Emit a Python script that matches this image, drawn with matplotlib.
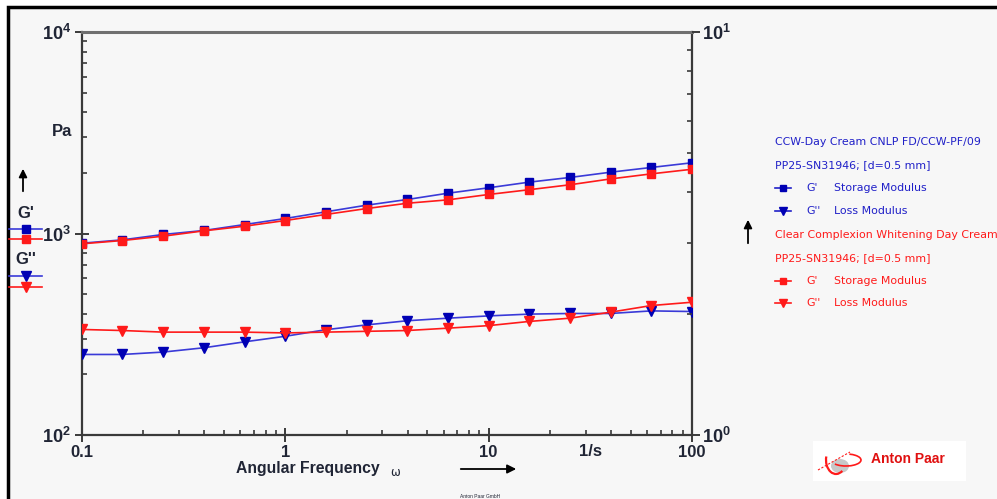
import matplotlib
matplotlib.use('Agg')
import matplotlib.pyplot as plt
from matplotlib.patches import Rectangle, Arc, Ellipse
from matplotlib.lines import Line2D
from matplotlib.ticker import LogLocator, NullFormatter

# ---------------- data ----------------
freq = [0.1, 0.158, 0.251, 0.398, 0.631, 1.0, 1.58, 2.51, 3.98, 6.31,
        10.0, 15.8, 25.1, 39.8, 63.1, 100.0]
ccw_storage = [895, 930, 989, 1035, 1108, 1187, 1281, 1382, 1475, 1585,
               1686, 1798, 1897, 2015, 2127, 2244]
ccw_loss = [251, 251, 258, 271, 290, 309, 333, 352, 369, 380,
            390, 398, 401, 401, 413, 410]
clear_storage = [889, 923, 970, 1031, 1087, 1160, 1243, 1330, 1413, 1469,
                 1562, 1649, 1745, 1866, 1977, 2084]
clear_loss = [334, 330, 324, 324, 324, 321, 324, 327, 330, 339,
              349, 366, 380, 407, 439, 456]
x_tick_values = [0.1, 1, 10, 100]
x_tick_labels = ['0.1', '1', '10', '100']
y_tick_values = [1e2, 1e3, 1e4]
y_tick_labels = [r'$\mathbf{10^{2}}$', r'$\mathbf{10^{3}}$', r'$\mathbf{10^{4}}$']
y2_tick_values = [1, 10]
y2_tick_labels = [r'$\mathbf{10^{0}}$', r'$\mathbf{10^{1}}$']

sample1 = 'CCW-Day Cream CNLP FD/CCW-PF/09'
sample2 = 'Clear Complexion Whitening Day Cream'
geometry = 'PP25-SN31946; [d=0.5 mm]'

BLUE_LINE = '#3a3ad8'
BLUE_MK = '#0000b4'
LEG_BLUE = '#2020c8'
RED = '#ff1a1a'
TXT = '#202535'

plt.rcParams['font.family'] = ['Liberation Sans', 'DejaVu Sans']
plt.rcParams['mathtext.fontset'] = 'custom'
plt.rcParams['mathtext.rm'] = 'Liberation Sans'
plt.rcParams['mathtext.bf'] = 'Liberation Sans:bold'

W, H = 997, 499
fig = plt.figure(figsize=(W / 100, H / 100), dpi=100, facecolor='white')

# outer frame (bottom and right edges fall outside the picture)
fig.add_artist(Rectangle((8 / W, -0.2), 1.2, (H - 7) / H + 0.2, transform=fig.transFigure,
                         facecolor='#f7f7f7', edgecolor='black', lw=2.5, zorder=-5))

ax = fig.add_axes([82 / W, (H - 435) / H, 610 / W, 403 / H])
ax.set_facecolor('#f7f7f7')
ax.set_xscale('log')
ax.set_yscale('log')
ax.set_xlim(0.1, 100)
ax.set_ylim(1e2, 1e4)

ax.plot(freq, ccw_storage, color=BLUE_LINE, lw=1.2, marker='s', ms=6,
        mfc=BLUE_MK, mec=BLUE_MK, zorder=3)
ax.plot(freq, ccw_loss, color=BLUE_LINE, lw=1.2, marker='v', ms=6.5,
        mfc=BLUE_MK, mec=BLUE_MK, zorder=3)
ax.plot(freq, clear_storage, color=RED, lw=1.2, marker='s', ms=6,
        mfc=RED, mec=RED, zorder=4)
ax.plot(freq, clear_loss, color=RED, lw=1.2, marker='v', ms=6.5,
        mfc=RED, mec=RED, zorder=4)

for s in ['left', 'right', 'bottom']:
    ax.spines[s].set_color('#3a3a3a')
    ax.spines[s].set_linewidth(1.6)
ax.spines['top'].set_color('#707070')
ax.spines['top'].set_linewidth(2.2)

ax.set_xticks(x_tick_values)
ax.set_xticklabels(x_tick_labels, fontsize=12, fontweight='bold', color=TXT)
ax.xaxis.set_minor_locator(LogLocator(base=10, subs=range(2, 10)))
ax.xaxis.set_minor_formatter(NullFormatter())
ax.set_yticks(y_tick_values)
ax.set_yticklabels(y_tick_labels, fontsize=13, color=TXT)
ax.yaxis.set_minor_locator(LogLocator(base=10, subs=range(2, 10)))
ax.yaxis.set_minor_formatter(NullFormatter())
ax.tick_params(which='major', direction='inout', length=10, width=1.4,
               color='#3a3a3a', pad=2)
ax.tick_params(which='minor', direction='in', length=3.5, width=1.2, color='#3a3a3a')
ax.tick_params(axis='y', which='major', pad=3)

ax2 = ax.twinx()
ax2.set_yscale('log')
ax2.set_ylim(1, 10)
for s in ax2.spines.values():
    s.set_visible(False)
ax2.set_yticks(y2_tick_values)
ax2.set_yticklabels(y2_tick_labels, fontsize=13, color=TXT)
ax2.yaxis.set_minor_locator(LogLocator(base=10, subs=range(2, 10)))
ax2.yaxis.set_minor_formatter(NullFormatter())
ax2.tick_params(which='major', direction='out', length=6, width=1.4,
                color='#3a3a3a', pad=1)
ax2.tick_params(which='minor', direction='in', length=3.5, width=1.2, color='#3a3a3a')

# ---------------- overlay in pixel coordinates ----------------
ov = fig.add_axes([0, 0, 1, 1], zorder=10)
ov.set_xlim(0, W)
ov.set_ylim(H, 0)
ov.axis('off')
ov.patch.set_alpha(0)

ov.text(62, 132, 'Pa', fontsize=12, fontweight='bold', color=TXT, ha='center', va='center')
ov.annotate('', xy=(23, 166), xytext=(23, 194),
            arrowprops=dict(arrowstyle='-|>', color='black', lw=1.3, mutation_scale=12))
ov.text(26, 214, "G'", fontsize=12, fontweight='bold', color=TXT, ha='center', va='center')
ov.text(26, 260, "G''", fontsize=12, fontweight='bold', color=TXT, ha='center', va='center')


def leg(x0, x1, y, color, mcolor, marker, ms):
    ov.add_line(Line2D([x0, x1], [y, y], color=color, lw=1.2))
    ov.add_line(Line2D([(x0 + x1) / 2], [y], marker=marker, ms=ms,
                       mfc=mcolor, mec=mcolor, lw=0))


leg(9, 42, 229, BLUE_LINE, BLUE_MK, 's', 6)
leg(9, 42, 239, RED, RED, 's', 6)
leg(9, 42, 276, BLUE_LINE, BLUE_MK, 'v', 6.5)
leg(9, 42, 287, RED, RED, 'v', 6.5)

# right side arrow
ov.annotate('', xy=(748, 217), xytext=(748, 246),
            arrowprops=dict(arrowstyle='-|>', color='black', lw=1.3, mutation_scale=12))

# right legend
FS = 7.9
LF = 'DejaVu Sans'
lx = 775
ov.text(lx, 142, sample1, fontsize=FS, family=LF, color=LEG_BLUE, va='center')
ov.text(lx, 165, geometry, fontsize=FS, family=LF, color=LEG_BLUE, va='center')
leg(lx, lx + 16, 188, LEG_BLUE, BLUE_MK, 's', 5)
ov.text(806, 188, "G'", fontsize=FS, family=LF, color=LEG_BLUE, va='center')
ov.text(834, 188, 'Storage Modulus', fontsize=FS, family=LF, color=LEG_BLUE, va='center')
leg(lx, lx + 16, 211, LEG_BLUE, BLUE_MK, 'v', 5.5)
ov.text(806, 211, "G''", fontsize=FS, family=LF, color=LEG_BLUE, va='center')
ov.text(834, 211, 'Loss Modulus', fontsize=FS, family=LF, color=LEG_BLUE, va='center')
ov.text(lx, 235, sample2, fontsize=FS, family=LF, color=RED, va='center')
ov.text(lx, 258, geometry, fontsize=FS, family=LF, color=RED, va='center')
leg(lx, lx + 16, 281, RED, RED, 's', 5)
ov.text(806, 281, "G'", fontsize=FS, family=LF, color=RED, va='center')
ov.text(834, 281, 'Storage Modulus', fontsize=FS, family=LF, color=RED, va='center')
leg(lx, lx + 16, 303, RED, RED, 'v', 5.5)
ov.text(806, 303, "G''", fontsize=FS, family=LF, color=RED, va='center')
ov.text(834, 303, 'Loss Modulus', fontsize=FS, family=LF, color=RED, va='center')

# x-axis label and unit
ov.text(590, 451, '1/s', fontsize=12, fontweight='bold', color=TXT, ha='center', va='center')
ov.text(236, 469, 'Angular Frequency', fontsize=11.3, fontweight='bold', color=TXT,
        ha='left', va='center')
ov.text(390, 472, 'ω', fontsize=8.5, family='DejaVu Sans', color=TXT, ha='left', va='center')
ov.annotate('', xy=(519, 469), xytext=(458, 469),
            arrowprops=dict(arrowstyle='-|>', color='black', lw=1.3, mutation_scale=13))
ov.text(480, 496, 'Anton Paar GmbH', fontsize=3.5, color=TXT, ha='center', va='center')

# Anton Paar logo
ov.add_patch(Rectangle((813, 441), 153, 40, facecolor='white', edgecolor='none'))
ov.add_patch(Ellipse((840, 466), 18, 14, facecolor='#c8c8c8', edgecolor='none'))
ov.add_patch(Arc((836, 460), 20, 28, theta1=60, theta2=200, color=RED, lw=1.6))
ov.add_patch(Arc((846, 460), 30, 12, theta1=300, theta2=520, color=RED, lw=1.2))
ov.add_line(Line2D([818, 850], [470, 452], color=RED, lw=0.8, ls=(0, (2, 1.5))))
ov.text(871, 459, 'Anton Paar', fontsize=10, fontweight='bold', color='#e01010',
        ha='left', va='center')

fig.savefig('out.png', dpi=100, facecolor='white')
